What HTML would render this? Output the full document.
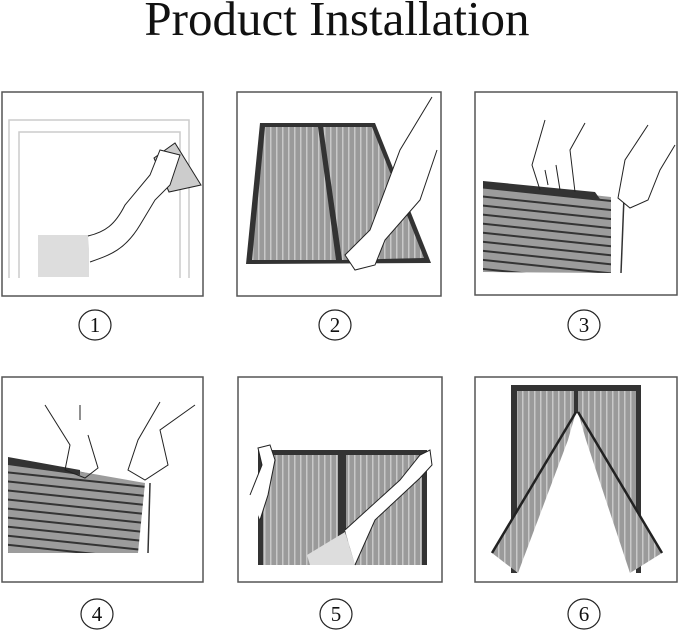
<!DOCTYPE html>
<html><head><meta charset="utf-8"><style>
html,body{margin:0;padding:0;background:#fff;width:679px;height:630px;overflow:hidden}
</style></head><body>
<svg width="679" height="630" viewBox="0 0 679 630" xmlns="http://www.w3.org/2000/svg">
<defs>
<pattern id="vs" width="6" height="10" patternUnits="userSpaceOnUse"><rect width="6" height="10" fill="#9a9a9a"/><rect x="0" width="1.5" height="10" fill="#c8c8c8"/></pattern>
<pattern id="hs" width="10" height="9" patternUnits="userSpaceOnUse" patternTransform="rotate(6)"><rect width="10" height="9" fill="#9c9c9c"/><rect y="0" width="10" height="2" fill="#333"/></pattern>
</defs>
<text x="337" y="35" text-anchor="middle" font-family="Liberation Serif, serif" font-size="49" fill="#111">Product Installation</text>
<g fill="none" stroke="#555" stroke-width="1.5">
<rect x="2" y="92" width="201" height="204"/>
<rect x="237" y="92" width="204" height="204"/>
<rect x="475" y="92" width="202" height="203"/>
<rect x="2" y="377" width="201" height="205"/>
<rect x="238" y="377" width="204" height="205"/>
<rect x="475" y="377" width="202" height="205"/>
</g>
<!-- box1 -->
<g fill="none" stroke="#ccc" stroke-width="1.5">
<path d="M9 278 V120 H189 V278"/><path d="M19 278 V132 H180 V278"/>
</g>
<rect x="38" y="235" width="51" height="42" fill="#ddd"/>
<polygon points="154,158 175,143 201,185 169,192" fill="#ccc" stroke="#222" stroke-width="1"/>
<path d="M88 236 C105 232 115 225 125 205 L150 175 L160 150 L180 155 L170 185 L155 200 L140 225 C125 250 110 255 90 262" fill="#fff" stroke="#222" stroke-width="1"/>
<!-- box2 -->
<polygon points="260,123 375,123 431,263 246,264" fill="#333"/>
<polygon points="265,127 318,127 336,260 252,260" fill="url(#vs)"/>
<polygon points="323,127 372,127 424,258 342,260" fill="url(#vs)"/>
<path d="M432 97 L400 150 L370 230 L345 255 L355 270 L375 265 L385 240 L420 200 L437 150" fill="#fff" stroke="#222" stroke-width="1"/>
<!-- box3 -->
<polygon points="483,183 611,197 611,273 483,272" fill="url(#hs)"/>
<polygon points="483,181 595,192 600,199 483,188" fill="#333"/>
<line x1="624" y1="197" x2="621" y2="273" stroke="#333" stroke-width="1.5"/>
<path d="M545 120 L532 165 L540 190 M585 123 L570 150 L575 192 M545 170 L548 185 M556 165 L560 190" fill="none" stroke="#222" stroke-width="1"/>
<path d="M648 125 L625 160 L618 198 L630 208 L648 200 L660 170 L675 145" fill="#fff" stroke="#222" stroke-width="1"/>
<!-- box4 -->
<polygon points="8,459 145,483 138,553 8,553" fill="url(#hs)"/>
<polygon points="8,457 80,470 80,475 8,465" fill="#333"/>
<line x1="150" y1="483" x2="148" y2="553" stroke="#333" stroke-width="1.5"/>
<path d="M45 405 L70 445 L65 470 L85 478 L98 468 L88 435 M80 405 L80 420 M160 402 L138 440 L128 470 L145 480 L168 465 L160 430 L195 405" fill="none" stroke="#222" stroke-width="1"/>
<!-- box5 -->
<rect x="258" y="450" width="169" height="115" fill="#333"/>
<rect x="263" y="455" width="75" height="110" fill="url(#vs)"/>
<rect x="346" y="455" width="76" height="110" fill="url(#vs)"/>
<path d="M250 495 L262 465 L258 448 L270 445 L275 460 L268 495 L260 520" fill="#fff" stroke="#222" stroke-width="1"/>
<polygon points="307,555 345,532 355,565 310,565" fill="#ddd"/>
<path d="M345 530 L400 480 L420 455 L430 450 L432 465 L420 478 L375 520 L355 565" fill="#fff" stroke="#222" stroke-width="1"/>
<!-- box6 -->
<rect x="511" y="385" width="130" height="6" fill="#333"/>
<rect x="511" y="385" width="6" height="188" fill="#333"/>
<rect x="636" y="385" width="5" height="188" fill="#333"/>
<polygon points="517,391 576,391 576,412 517,520" fill="url(#vs)"/>
<polygon points="578,391 636,391 636,520 578,412" fill="url(#vs)"/>
<rect x="574" y="391" width="4" height="22" fill="#333"/>
<polygon points="576,412 492,553 518,573 568,440" fill="url(#vs)"/>
<line x1="576" y1="412" x2="492" y2="553" stroke="#222" stroke-width="2.5"/>
<polygon points="578,412 662,553 630,573 586,440" fill="url(#vs)"/>
<line x1="578" y1="412" x2="662" y2="553" stroke="#222" stroke-width="2.5"/>
<!-- circles -->
<g fill="none" stroke="#222" stroke-width="1.2">
<ellipse cx="95" cy="325" rx="16" ry="15"/><ellipse cx="335" cy="325" rx="16" ry="15"/><ellipse cx="584" cy="325" rx="16" ry="15"/>
<ellipse cx="97" cy="614" rx="16" ry="15"/><ellipse cx="336" cy="614" rx="16" ry="15"/><ellipse cx="584" cy="614" rx="16" ry="15"/>
</g>
<g font-family="Liberation Serif, serif" font-size="21" fill="#111" text-anchor="middle">
<text x="95" y="332">1</text><text x="335" y="332">2</text><text x="584" y="332">3</text>
<text x="97" y="621">4</text><text x="336" y="621">5</text><text x="584" y="621">6</text>
</g>
</svg>
</body></html>
